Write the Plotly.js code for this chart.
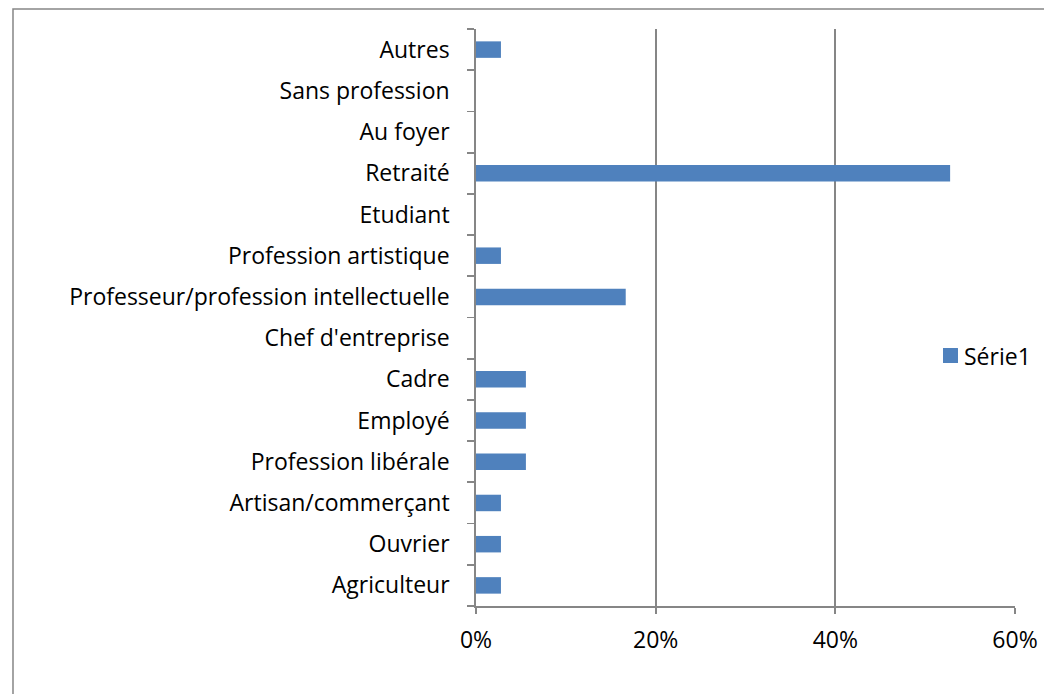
<!DOCTYPE html>
<html><head><meta charset="utf-8">
<script src="https://cdn.plot.ly/plotly-3.0.1.min.js"></script>
<style>body{margin:0;background:#fff}#c{width:1044px;height:694px}</style>
</head><body><div id="c"></div>
<script>
const categories = ["Agriculteur","Ouvrier","Artisan/commerçant","Profession libérale","Employé","Cadre","Chef d'entreprise","Professeur/profession intellectuelle","Profession artistique","Etudiant","Retraité","Au foyer","Sans profession","Autres"];
const counts = [1,1,1,2,2,2,0,6,1,0,19,0,0,1];
const total = 36;
const values = counts.map(c => c/total);
const seriesName = "Série1";
const xTicks = [0,0.2,0.4,0.6];
const xTickLabels = ["0%","20%","40%","60%"];

const barColor = "#4f81bd";
const font = {family:"'Open Sans', sans-serif", size:23, color:"#000"};
const data = [{type:"bar", orientation:"h", y:categories, x:values, name:seriesName,
  marker:{color:barColor, line:{width:0}}, showlegend:false}];
const layout = {
  width:1044, height:694, margin:{l:476,r:29,t:29,b:88},
  paper_bgcolor:"#fff", plot_bgcolor:"#fff", font:font, bargap:0.6, showlegend:false,
  xaxis:{range:[0,0.6], tickvals:xTicks, ticktext:xTickLabels, showgrid:true, gridcolor:"#868686", gridwidth:1.8,
    showline:true, linecolor:"#868686", linewidth:1.8, ticks:"outside", ticklen:6, tickcolor:"#868686", tickwidth:1.8,
    zeroline:false, ticklabelstandoff:7, fixedrange:true, automargin:false},
  yaxis:{type:"category", showline:true, linecolor:"#868686", linewidth:1.8, ticks:"outside", tickson:"boundaries",
    ticklen:7, tickcolor:"#868686", tickwidth:1.8, showgrid:false, ticklabelstandoff:20, fixedrange:true, automargin:false},
  shapes:[
    {type:"rect", xref:"paper", yref:"paper", x0:-0.859, x1:2, y0:-1, y1:1.0347,
      line:{color:"#868686", width:1.5}, fillcolor:"rgba(0,0,0,0)", layer:"below"},
    {type:"rect", xref:"paper", yref:"paper", x0:0.8664, x1:0.8942, y0:0.4211, y1:0.4471,
      line:{width:0}, fillcolor:barColor}
  ],
  annotations:[{xref:"paper", yref:"paper", x:0.9015, y:0.434, xanchor:"left", yanchor:"middle",
    text:seriesName, showarrow:false, font:font}]
};
Plotly.newPlot("c", data, layout, {displayModeBar:false, staticPlot:true});
</script></body></html>
